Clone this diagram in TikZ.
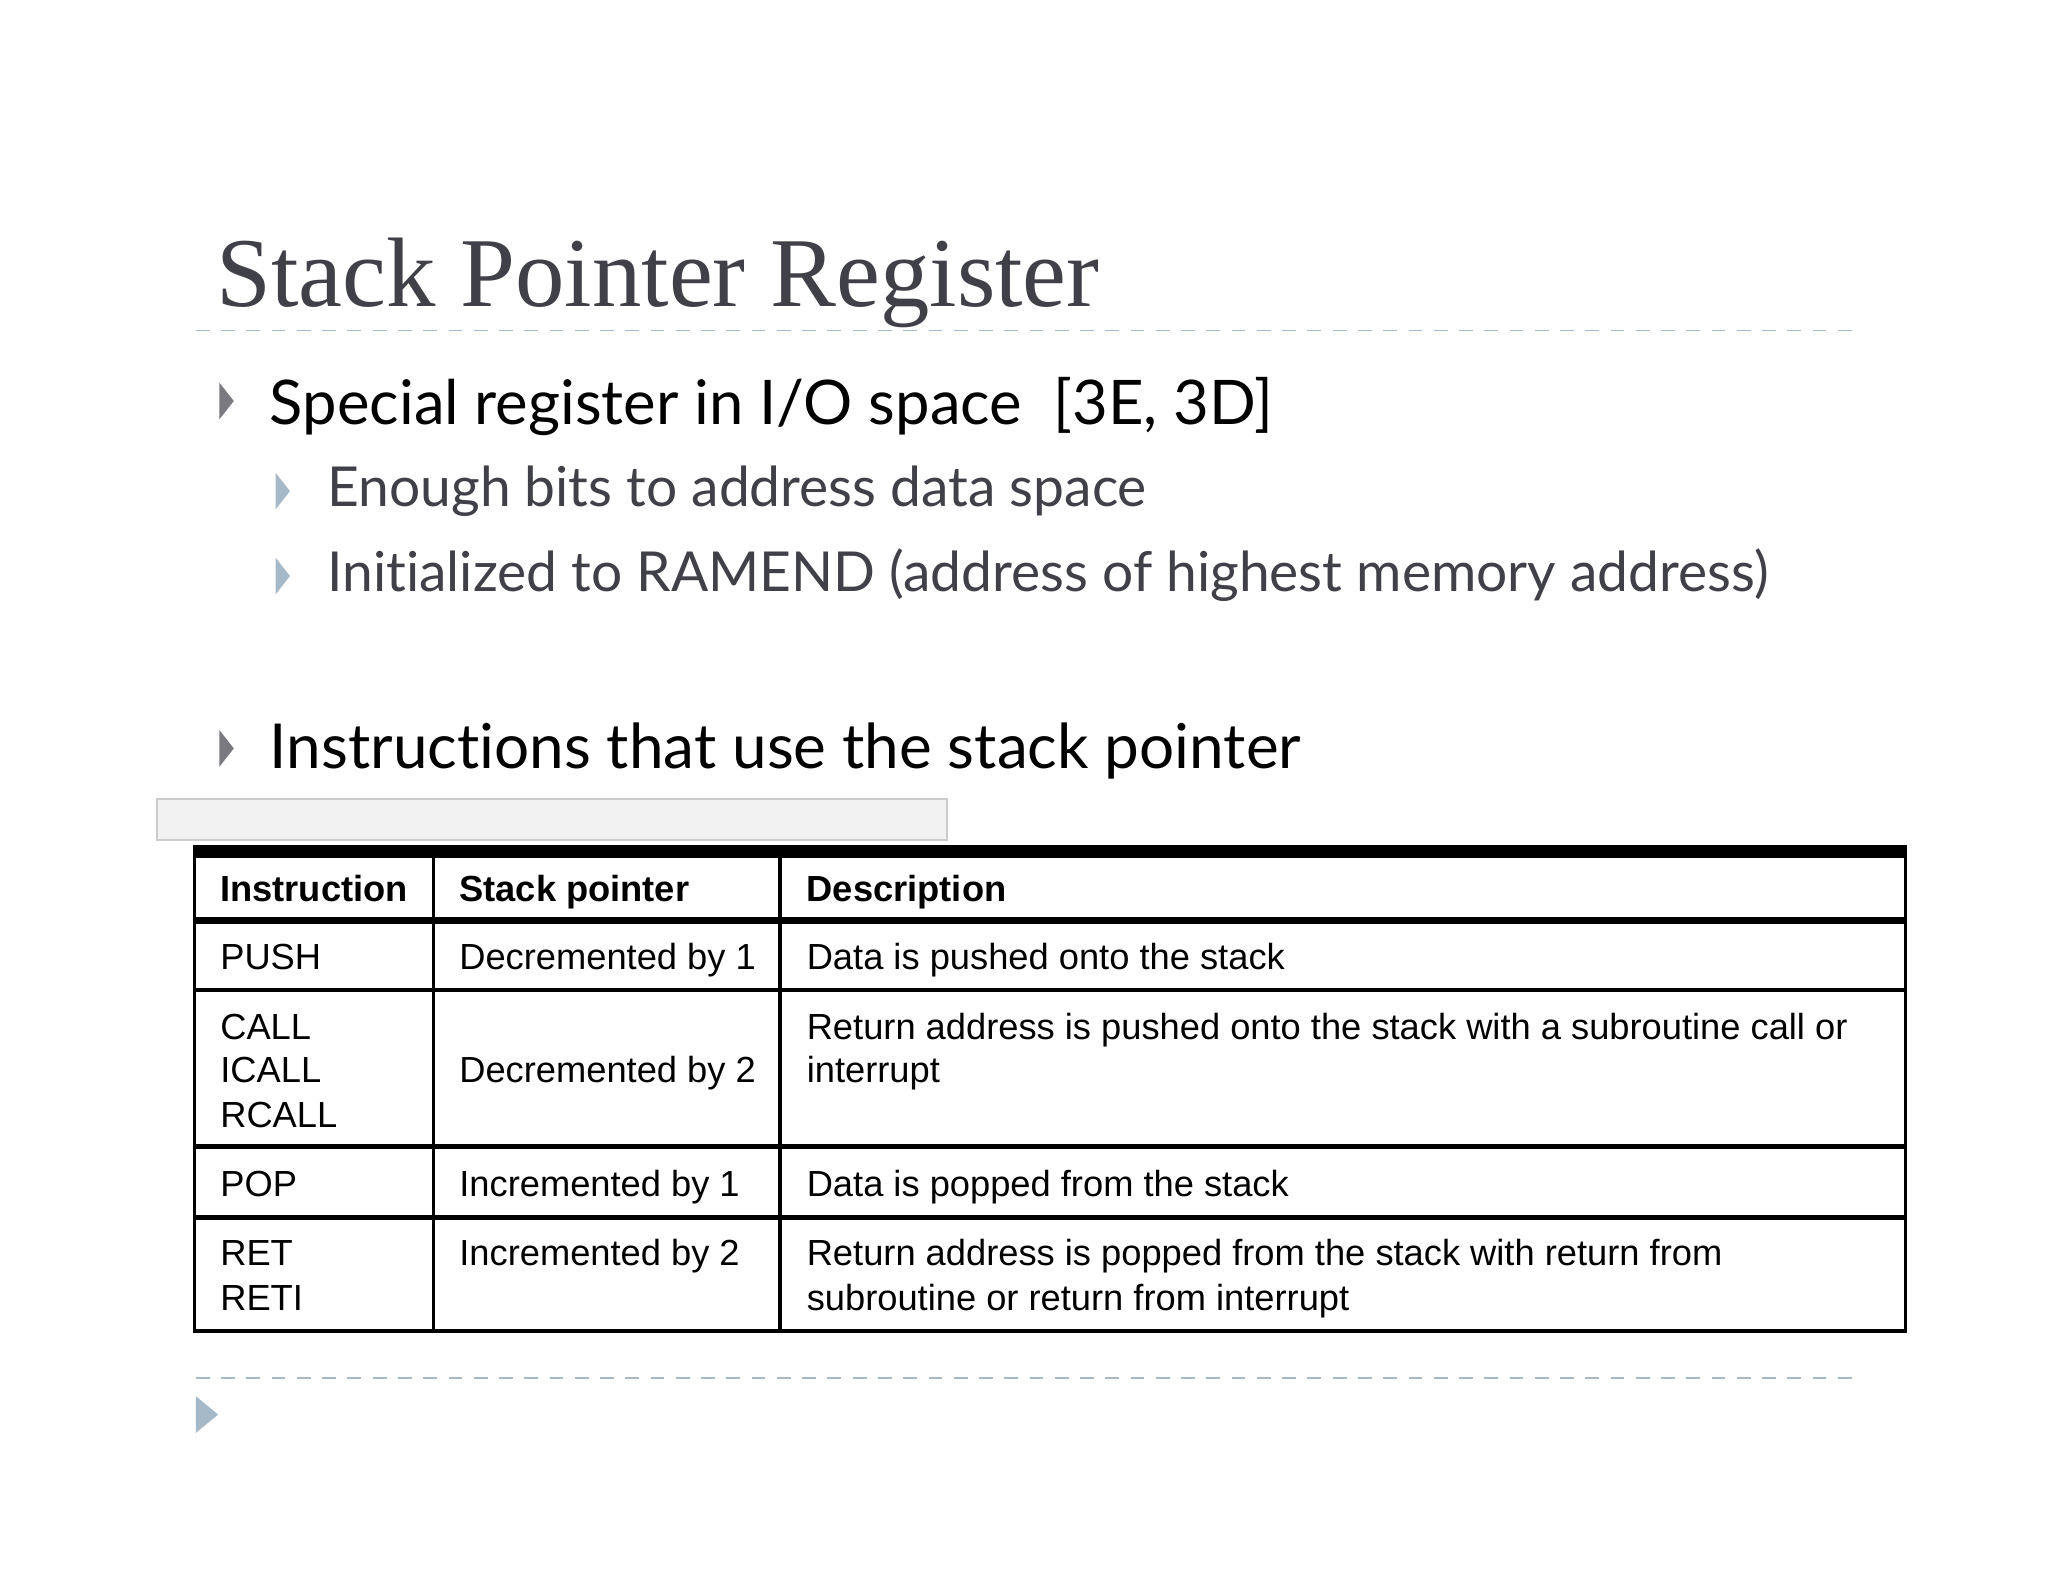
\documentclass[tikz,border=0pt]{standalone}
\usepackage{fontspec}
\setmainfont{Liberation Serif}
\newfontfamily\bulletfont[Ligatures={NoCommon}]{Lato}
\newfontfamily\tablefont{Liberation Sans}
\usetikzlibrary{positioning, calc}
\definecolor{TitleGray}{RGB}{64, 64, 72}
\definecolor{RuleBlue}{RGB}{165, 185, 200}
\definecolor{BoxGray}{RGB}{242, 242, 242}

\tikzset{
    txt/.style={anchor=base west, inner sep=0},
    cell/.style={txt, font=\tablefont\fontsize{7.9}{10}\selectfont},
    head/.style={cell, font=\tablefont\bfseries\fontsize{7.9}{10}\selectfont}
}
\newcommand{\marker}[3]{\fill[#3] (#1,#2) -- ++(11,14) -- ++(-11,14) -- cycle;}

\begin{document}
\begin{tikzpicture}[x=0.01cm, y=-0.01cm]
    \useasboundingbox (0,0) rectangle (1568,1211);
    \fill[white] (0,0) rectangle (1568,1211);

    % Title and rules
    \node[txt, font=\fontsize{21.5}{24}\selectfont, text=TitleGray] (title) at (165,235) {Stack Pointer Register};
    \draw[RuleBlue, dash pattern=on 3pt off 2.5pt] (150,253) -- (1418,253);
    \draw[RuleBlue, dash pattern=on 3pt off 2.5pt] (150,1055) -- (1418,1055);

    % Bullets
    \marker{168}{293}{TitleGray!70}
    \node[txt, font=\bulletfont\fontsize{13.4}{16}\selectfont] (b1) at (206,325) {Special register in I/O space \ [3E, 3D]};
    \marker{211}{362}{RuleBlue}
    \node[txt, font=\bulletfont\fontsize{12}{15}\selectfont, text=TitleGray] (s1) at (250,388) {Enough bits to address data space};
    \marker{211}{427}{RuleBlue}
    \node[txt, font=\bulletfont\fontsize{12}{15}\selectfont, text=TitleGray] (s2) at (250,453) {Initialized to RAMEND (address of highest memory address)};
    \marker{168}{559}{TitleGray!70}
    \node[txt, font=\bulletfont\fontsize{13.5}{16}\selectfont] (b2) at (206,588) {Instructions that use the stack pointer};
    \fill[RuleBlue] (150,1069) -- ++(17,14) -- ++(-17,14) -- cycle;

    % Empty caption box
    \draw[gray!40, fill=BoxGray] (120,612) rectangle (725,643);

    % Table rules
    \draw[line width=3pt] (148,652) -- (1460,652);
    \draw[line width=1.5pt] (148,705) -- (1460,705);
    \foreach \y in {758,878,932,1019}
        \draw[line width=1pt] (148,\y) -- (1460,\y);
    \foreach \x in {149,332,597,1459}
        \draw[line width=0.8pt] (\x,652) -- (\x,1019);

    % Header
    \node[head] (hInstr) at (168,690) {Instruction};
    \node[head] (hSP) at (351,690) {Stack pointer};
    \node[head] (hDesc) at (617,690) {Description};

    % Rows
    \node[cell] (push) at (168,742) {PUSH};
    \node[cell] (pushSP) at (351,742) {Decremented by 1};
    \node[cell] (pushD) at (617,742) {Data is pushed onto the stack};

    \node[cell] (call) at (168,796) {CALL};
    \node[cell] (icall) at (168,829) {ICALL};
    \node[cell] (rcall) at (168,863) {RCALL};
    \node[cell] (callSP) at (351,829) {Decremented by 2};
    \node[cell] (callD) at (617,796) {Return address is pushed onto the stack with a subroutine call or};
    \node[cell] (callD2) at (617,829) {interrupt};

    \node[cell] (pop) at (168,916) {POP};
    \node[cell] (popSP) at (351,916) {Incremented by 1};
    \node[cell] (popD) at (617,916) {Data is popped from the stack};

    \node[cell] (ret) at (168,969) {RET};
    \node[cell] (reti) at (168,1003) {RETI};
    \node[cell] (retSP) at (351,969) {Incremented by 2};
    \node[cell] (retD) at (617,969) {Return address is popped from the stack with return from};
    \node[cell] (retD2) at (617,1003) {subroutine or return from interrupt};
\end{tikzpicture}
\end{document}
